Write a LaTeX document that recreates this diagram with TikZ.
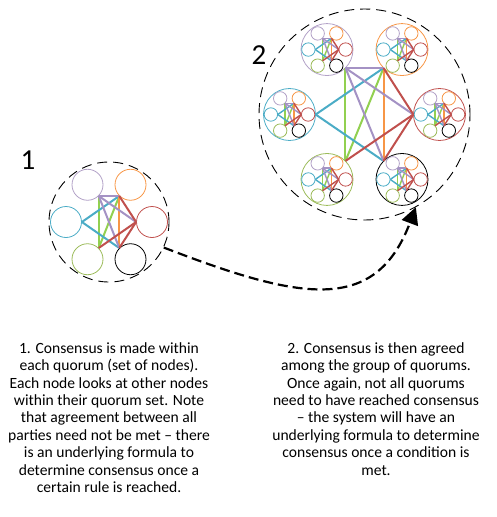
\documentclass[tikz,border=0pt]{standalone}
\usepackage{fontspec}
\setmainfont{Carlito}
\usetikzlibrary{arrows.meta}
\definecolor{qpurple}{RGB}{178,161,199}
\definecolor{qorange}{RGB}{247,150,70}
\definecolor{qcyan}{RGB}{75,172,198}
\definecolor{qred}{RGB}{192,80,77}
\definecolor{qgreen}{RGB}{155,187,89}
\definecolor{lpurple}{RGB}{164,146,196}
\definecolor{lgreen}{RGB}{146,208,80}

\tikzset{
  member/.style={circle, draw, inner sep=0pt, minimum size=31pt, line width=0.8pt},
  ring/.style={circle, draw=black, inner sep=0pt, line width=0.9pt, dash pattern=on 10pt off 6pt},
  flow/.style={line width=2.2pt, dash pattern=on 10pt off 5pt, -{Triangle[length=17pt,width=17pt]}},
  caption/.style={align=center, anchor=north, font=\fontsize{15.6}{17.4}\selectfont},
  number/.style={font=\fontsize{29}{34}\selectfont}
}

% six members of one quorum, #1 = prefix
\newcommand{\members}[1]{%
  \node[member, draw=qpurple] (#1-pu) at (240:43) {};
  \node[member, draw=qorange] (#1-or) at (300:43) {};
  \node[member, draw=qcyan] (#1-cy) at (180:43) {};
  \node[member, draw=qred] (#1-rd) at (0:43) {};
  \node[member, draw=qgreen] (#1-gr) at (120:43) {};
  \node[member, draw=black] (#1-bk) at (60:43) {};
}
% links inside a quorum, #1 = prefix, #2 = line width
\newcommand{\links}[2]{%
  \draw[lgreen, line width=#2] (#1-gr.north east) -- (#1-pu.south east);
  \draw[lgreen, line width=#2] (#1-gr.north east) -- (#1-or.south west);
  \draw[qcyan, line width=#2] (#1-cy.east) -- (#1-or.south west);
  \draw[qcyan, line width=#2] (#1-cy.east) -- (#1-bk.north west);
  \draw[qorange, line width=#2] (#1-or.south west) -- (#1-bk.north west);
  \draw[lpurple, line width=#2] (#1-pu.south east) -- (#1-or.south west);
  \draw[lpurple, line width=#2] (#1-pu.south east) -- (#1-rd.west);
  \draw[lpurple, line width=#2] (#1-pu.south east) -- (#1-bk.north west);
  \draw[qred, line width=#2] (#1-rd.west) -- (#1-or.south west);
  \draw[qred, line width=#2] (#1-rd.west) -- (#1-gr.north east);
  \draw[qred, line width=#2] (#1-rd.west) -- (#1-bk.north west);
}

\begin{document}
\begin{tikzpicture}[x=1pt, y=-1pt]
  \useasboundingbox (0,0) rectangle (497,517);

  % quorum 1
  \begin{scope}[shift={(109,222)}]
    \node[ring, minimum size=120pt] (q1) at (0,0) {};
    \members{q1}
    \links{q1}{2pt}
  \end{scope}
  \node[number] (n1) at (28,160) {1};

  % group of quorums
  \begin{scope}[shift={(364.5,114.5)}]
    \node[ring, minimum size=211pt] (q2) at (0,0) {};
    \foreach \n/\a/\c in {pu/240/qpurple, or/300/qorange, cy/180/qcyan,
                          rd/0/qred, gr/120/qgreen, bk/60/black}{
      \begin{scope}[shift={(\a:75)}, scale=0.433, transform shape]
        \node[member, minimum size=120pt, draw=\c] (q2-\n) at (0,0) {};
        \members{q2-\n}
        \links{q2-\n}{1.4pt}
      \end{scope}
    }
    \links{q2}{2pt}
  \end{scope}
  \node[number] (n2) at (259,55) {2};

  \draw[flow] (q1.-25) .. controls (300,300) and (375,315) .. (q2.-61);

  \node[caption] (t1) at (109,339) {1. Consensus is made within\\each quorum (set of nodes).\\Each node looks at other nodes\\within their quorum set. Note\\that agreement between all\\parties need not be met – there\\is an underlying formula to\\determine consensus once a\\certain rule is reached.};
  \node[caption] (t2) at (376,339) {2. Consensus is then agreed\\among the group of quorums.\\Once again, not all quorums\\need to have reached consensus\\– the system will have an\\underlying formula to determine\\consensus once a condition is\\met.};
\end{tikzpicture}
\end{document}
